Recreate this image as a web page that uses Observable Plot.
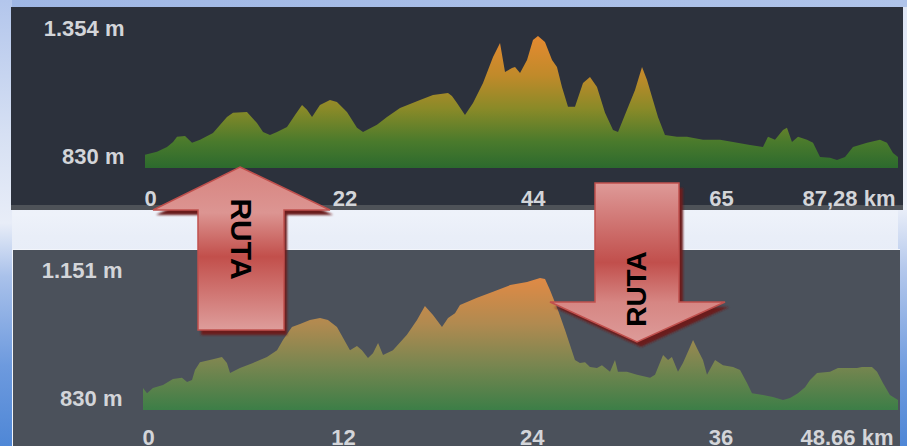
<!DOCTYPE html>
<html>
<head>
<meta charset="utf-8">
<script src="https://cdn.jsdelivr.net/npm/d3@7"></script>
<script src="https://cdn.jsdelivr.net/npm/@observablehq/plot@0.6"></script>
<style>
html,body{margin:0;padding:0;}
body{width:907px;height:446px;position:relative;overflow:hidden;
  background:linear-gradient(to bottom,#dfe6f5 0%,#eef2fa 48%,#e9eef8 53%,#dde5f4 100%);
  font-family:"Liberation Sans",Arial,sans-serif;}
.abs{position:absolute;}
#topstrip{left:0;top:0;width:907px;height:7px;background:linear-gradient(to right,#9fb7e5,#b0c4ea);}
#leftstrip{left:0;top:0;width:12px;height:446px;
  background:linear-gradient(to bottom,#b3c6ec 0%,#d6e0f3 30%,#e8edf8 50%,#a9c1ea 62%,#6d9ade 82%,#4f87d6 100%);}
#rightstrip{left:898px;top:210px;width:9px;height:236px;
  background:linear-gradient(to bottom,#e8edf8 0%,#b4c8ec 25%,#6d9ade 70%,#4f87d6 100%);}
#toppanel{left:11px;top:7px;width:892px;height:198px;background:#2c313c;}
#topaxisstrip{left:11px;top:205px;width:892px;height:5px;background:#4e5258;}
#botpanel{left:12px;top:249px;width:888px;height:197px;background:#4b515b;box-sizing:border-box;
  border-top:1px solid #f2f5fb;border-left:1px solid #f2f5fb;}
#topchart{left:11px;top:7px;}
#botchart{left:12px;top:249px;}
#arrows{left:0;top:0;pointer-events:none;}
</style>
</head>
<body>
<div class="abs" id="topstrip"></div>
<div class="abs" id="leftstrip"></div>
<div class="abs" id="rightstrip"></div>
<div class="abs" id="toppanel"></div>
<div class="abs" id="topaxisstrip"></div>
<div class="abs" id="botpanel"></div>
<div class="abs" id="topchart"></div>
<div class="abs" id="botchart"></div>
<svg class="abs" id="arrows" width="907" height="446" xmlns="http://www.w3.org/2000/svg">
  <defs>
    <linearGradient id="gUp" gradientUnits="userSpaceOnUse" x1="0" y1="167" x2="0" y2="330">
      <stop offset="0" stop-color="#d7837f"/>
      <stop offset="0.28" stop-color="#dc9592"/>
      <stop offset="0.55" stop-color="#c24f4b"/>
      <stop offset="1" stop-color="#de9d9b"/>
    </linearGradient>
    <linearGradient id="gDown" gradientUnits="userSpaceOnUse" x1="0" y1="183" x2="0" y2="342">
      <stop offset="0" stop-color="#de9a98"/>
      <stop offset="0.5" stop-color="#c14f4c"/>
      <stop offset="0.75" stop-color="#d68683"/>
      <stop offset="1" stop-color="#dd9b99"/>
    </linearGradient>
    <filter id="blur" x="-10%" y="-10%" width="120%" height="120%"><feGaussianBlur stdDeviation="1"/></filter>
  </defs>
  <g>
    <polygon points="240,167 330,210 284,210 284,330 198,330 198,210 153,210" fill="#6b1f1e" transform="translate(3,5)" filter="url(#blur)"/>
    <polygon points="240,167 330,210 284,210 284,330 198,330 198,210 153,210" fill="url(#gUp)" stroke="#c0504d" stroke-width="1.5" stroke-linejoin="miter"/>
    <text transform="translate(241,239) rotate(90)" text-anchor="middle" dominant-baseline="central" font-family="Liberation Sans, Arial, sans-serif" font-weight="bold" font-size="30" fill="#000">RUTA</text>
  </g>
  <g>
    <polygon points="595,183 679,183 679,302 725,302 637,342 550,302 595,302" fill="#6b1f1e" transform="translate(4,5)" filter="url(#blur)"/>
    <polygon points="595,183 679,183 679,302 725,302 637,342 550,302 595,302" fill="url(#gDown)" stroke="#c0504d" stroke-width="1.5" stroke-linejoin="miter"/>
    <text transform="translate(636,289) rotate(-90)" text-anchor="middle" dominant-baseline="central" font-family="Liberation Sans, Arial, sans-serif" font-weight="bold" font-size="28" fill="#000">RUTA</text>
  </g>
</svg>
<script>
// ---------- Data: route 1 (top) ----------
const topKm = [0,1.39,2.55,3.25,3.71,4.64,5.45,6.38,7.88,9.50,10.20,11.82,12.98,13.68,14.49,15.30,16.46,17.39,18.20,18.78,19.36,20.28,21.44,22.25,23.41,24.57,25.27,26.89,28.05,29.56,31.88,33.38,35.12,35.58,36.16,37.09,38.02,39.18,40.34,41.15,41.73,42.54,42.89,43.47,44.28,44.97,45.55,46.36,47.18,47.75,48.33,49.03,49.84,50.77,51.58,52.39,53.32,54.25,54.83,55.87,56.80,57.61,58.19,58.77,59.46,60.27,61.66,62.82,64.68,66.65,68.16,70.13,71.63,72.21,73.02,73.95,74.41,74.99,75.69,76.73,77.43,78.24,79.40,80.21,81.14,82.06,83.69,85.19,86.00,86.70,87.28];
const topElev = [839,852,873,895,917,921,891,904,934,1003,1021,1025,977,938,925,938,960,1012,1055,1034,1003,1055,1077,1068,1025,956,938,969,1003,1042,1077,1098,1107,1094,1064,1012,1064,1150,1263,1324,1198,1215,1220,1194,1250,1337,1354,1328,1250,1220,1133,1047,1047,1150,1176,1133,1021,947,938,1034,1120,1220,1163,1090,1003,925,917,917,904,904,895,882,873,917,904,947,956,895,917,904,891,830,826,817,830,873,891,904,891,847,830];
const topTickKm = [0, 21.82, 43.64, 65.46];
const topTickLabels = ["0", "22", "44", "65"];
const topLengthKm = 87.28;
const topEndLabel = "87,28 km";
const topYTicks = [830, 1354];
const topYFloor = 782;

// ---------- Data: route 2 (bottom) ----------
const botKm = [0,0.26,0.64,1.29,1.93,2.51,2.84,3.16,3.35,3.67,4.51,5.09,5.41,5.61,6.25,7.09,7.99,8.64,9.02,9.60,10.12,10.76,11.41,11.92,12.50,12.89,13.34,13.79,14.11,14.50,14.82,15.15,15.47,16.11,17.01,17.66,18.17,18.69,19.27,19.66,20.11,20.43,21.53,22.56,23.66,24.75,25.59,25.91,26.23,26.75,27.20,27.84,28.16,28.49,28.81,29.26,29.58,30.10,30.42,30.61,31.19,31.84,32.68,33.00,33.52,33.84,34.09,34.48,34.80,35.25,35.45,35.77,36.09,36.35,36.87,37.38,38.03,38.48,38.93,39.25,39.96,40.60,41.25,41.70,42.21,42.67,42.99,43.44,44.28,44.79,45.44,46.02,46.34,46.98,47.31,47.69,48.14,48.66];
const botElev = [857,843,857,865,881,884,873,878,905,926,934,940,924,897,910,924,940,958,985,1020,1028,1039,1044,1039,1020,991,958,969,958,937,950,977,945,958,999,1039,1076,1052,1020,1044,1057,1079,1098,1114,1132,1140,1151,1148,1119,1065,1012,932,924,926,913,910,918,900,932,900,900,892,884,892,945,932,940,900,924,966,985,958,932,892,932,918,913,905,870,843,838,833,825,830,843,859,878,897,900,910,910,910,913,913,900,870,838,825];
const botTickKm = [0, 12.165, 24.33, 36.5];
const botTickLabels = ["0", "12", "24", "36"];
const botLengthKm = 48.66;
const botEndLabel = "48.66 km";
const botYTicks = [830, 1151];
const botYFloor = 798;

const fmtInt = d3.formatLocale({decimal: ",", thousands: ".", grouping: [3], currency: ["", "€"]}).format(",d");

function gradientDefs(id, stops) {
  return () => {
    const ns = "http://www.w3.org/2000/svg";
    const defs = document.createElementNS(ns, "defs");
    const g = document.createElementNS(ns, "linearGradient");
    g.setAttribute("id", id);
    g.setAttribute("x1", "0"); g.setAttribute("y1", "0");
    g.setAttribute("x2", "0"); g.setAttribute("y2", "1");
    for (const [o, c] of stops) {
      const s = document.createElementNS(ns, "stop");
      s.setAttribute("offset", o);
      s.setAttribute("stop-color", c);
      g.appendChild(s);
    }
    defs.appendChild(g);
    return defs;
  };
}

function profile(cfg) {
  const data = cfg.km.map((k, i) => ({km: k, m: cfg.elev[i]}));
  const tickMap = new Map(cfg.tickKm.map((t, i) => [t, cfg.tickLabels[i]]));
  const axisCommon = {tickSize: 0, label: null};
  return Plot.plot({
    width: cfg.width, height: cfg.height,
    marginLeft: cfg.marginLeft, marginRight: cfg.marginRight,
    marginTop: cfg.marginTop, marginBottom: cfg.marginBottom,
    x: {domain: [0, cfg.length], label: null},
    y: {domain: [cfg.floor, cfg.yTicks[1]], label: null},
    style: {background: "transparent", color: "#d3d5d9", fontSize: "22px", fontWeight: "bold",
            fontFamily: "'Liberation Sans', Arial, sans-serif", overflow: "visible"},
    marks: [
      gradientDefs(cfg.gradId, cfg.stops),
      Plot.areaY(data, {x: "km", y1: cfg.floor, y2: "m", fill: `url(#${cfg.gradId})`}),
      Plot.axisY({...axisCommon, ticks: [cfg.yTicks[1]], tickPadding: 21, dy: -8, tickFormat: d => fmtInt(d) + " m"}),
      Plot.axisY({...axisCommon, ticks: [cfg.yTicks[0]], tickPadding: 21, tickFormat: d => fmtInt(d) + " m"}),
      Plot.axisX({...axisCommon, ticks: cfg.tickKm, tickPadding: cfg.xPad, textAnchor: "start", dx: -1, tickFormat: d => tickMap.get(d)}),
      Plot.axisX({...axisCommon, ticks: [cfg.length], tickPadding: cfg.xPad, textAnchor: "end", dx: cfg.endDx, tickFormat: () => cfg.endLabel})
    ]
  });
}

document.getElementById("topchart").appendChild(profile({
  km: topKm, elev: topElev, tickKm: topTickKm, tickLabels: topTickLabels,
  length: topLengthKm, endLabel: topEndLabel, yTicks: topYTicks, floor: topYFloor,
  width: 892, height: 203, marginLeft: 134, marginRight: 5, marginTop: 29, marginBottom: 42,
  xPad: 22, endDx: -3, gradId: "gTop",
  stops: [[0, "#e68a30"], [0.3, "#c08a2a"], [0.55, "#8a8a28"], [0.8, "#4a7a2c"], [1, "#2c6a2e"]]
}));

document.getElementById("botchart").appendChild(profile({
  km: botKm, elev: botElev, tickKm: botTickKm, tickLabels: botTickLabels,
  length: botLengthKm, endLabel: botEndLabel, yTicks: botYTicks, floor: botYFloor,
  width: 888, height: 197, marginLeft: 131, marginRight: 2, marginTop: 29, marginBottom: 36,
  xPad: 19, endDx: -5, gradId: "gBot",
  stops: [[0, "#e08a45"], [0.35, "#b08a50"], [0.65, "#7a8650"], [1, "#3c7e47"]]
}));
</script>
</body>
</html>
